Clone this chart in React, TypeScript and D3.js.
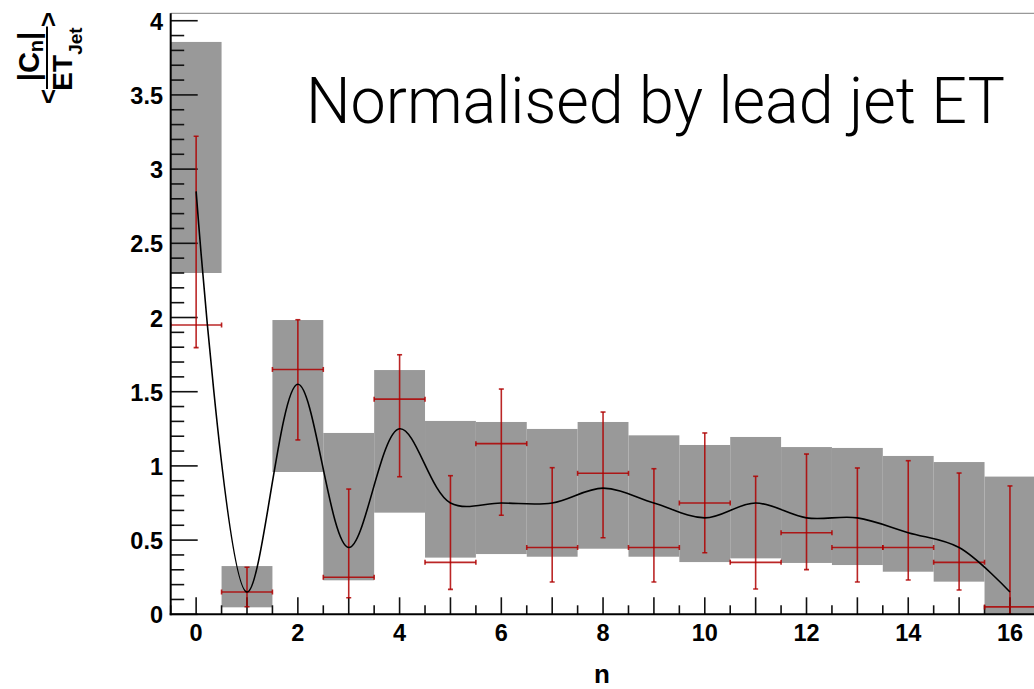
import React from "react";
import * as d3 from "d3";

const nValues = [0, 1, 2, 3, 4, 5, 6, 7, 8, 9, 10, 11, 12, 13, 14, 15, 16];
const sysLow = [2.3, 0.047, 0.959, 0.229, 0.685, 0.382, 0.406, 0.388, 0.442, 0.388, 0.352, 0.377, 0.346, 0.332, 0.287, 0.22, 0.0];
const sysHigh = [3.857, 0.325, 1.983, 1.222, 1.646, 1.303, 1.296, 1.249, 1.296, 1.206, 1.141, 1.195, 1.127, 1.121, 1.067, 1.026, 0.928];
const pointValue = [1.95, 0.15, 1.65, 0.25, 1.45, 0.35, 1.15, 0.45, 0.95, 0.45, 0.75, 0.35, 0.55, 0.45, 0.45, 0.35, 0.05];
const errHigh = [3.221, 0.317, 1.985, 0.844, 1.749, 0.934, 1.518, 0.988, 1.363, 0.981, 1.222, 0.93, 1.08, 0.986, 1.035, 0.952, 0.865];
const errLow = [1.797, 0.051, 1.175, 0.112, 0.927, 0.168, 0.667, 0.218, 0.516, 0.218, 0.415, 0.17, 0.301, 0.218, 0.231, 0.164, 0.0];
const curveValue = [2.85, 0.15, 1.55, 0.45, 1.25, 0.75, 0.75, 0.75, 0.85, 0.75, 0.65, 0.75, 0.65, 0.65, 0.55, 0.45, 0.15];

const yTickLabels = ["0", "0.5", "1", "1.5", "2", "2.5", "3", "3.5", "4"];
const xTickLabels = ["0", "2", "4", "6", "8", "10", "12", "14", "16"];

const W = 1034;
const H = 689;
const left = 170.7;
const right = 1035.4;
const top = 13.3;
const bottom = 614.3;

const RED = "rgb(175,0,0)";
const FONT = "'Liberation Sans', Arial, Helvetica, sans-serif";

export default function App() {
  const x = d3.scaleLinear().domain([-0.5, 16.5]).range([left, right]);
  const y = d3.scaleLinear().domain([0, 4.05]).range([bottom, top]);

  const line = d3
    .line<number>()
    .x((_, i) => x(nValues[i]))
    .y((d) => y(d))
    .curve(d3.curveCatmullRom.alpha(0.5));

  const yMinor = d3.range(0, 41).map((i) => i / 10);
  const xMinor = d3.range(-0.5, 16.51, 0.5);
  const cap = 2.5;

  return (
    <svg
      width={W}
      height={H}
      style={{ position: "absolute", left: 0, top: 0, background: "#fff" }}
    >
      <defs>
        <clipPath id="plot">
          <rect x={left} y={top} width={right - left} height={bottom - top} />
        </clipPath>
      </defs>

      {/* systematic boxes */}
      <g clipPath="url(#plot)">
        {nValues.map((n, i) => (
          <rect
            key={"b" + i}
            x={x(n - 0.5)}
            y={y(sysHigh[i])}
            width={x(n + 0.5) - x(n - 0.5)}
            height={y(sysLow[i]) - y(sysHigh[i])}
            fill="#999999"
          />
        ))}
      </g>

      {/* axis ticks */}
      <g stroke="#111" strokeWidth={1.6}>
        {yMinor.map((v, i) => (
          <line
            key={"yt" + i}
            x1={left}
            x2={left + (i % 5 === 0 ? 27 : 13.5)}
            y1={y(v)}
            y2={y(v)}
          />
        ))}
        {xMinor.map((v, i) => (
          <line
            key={"xt" + i}
            x1={x(v)}
            x2={x(v)}
            y1={bottom}
            y2={bottom - (Number.isInteger(v) ? 17 : 9)}
          />
        ))}
      </g>

      {/* error bars */}
      <g clipPath="url(#plot)" stroke={RED} strokeWidth={1.6} strokeOpacity={0.85} fill="none">
        {nValues.map((n, i) => (
          <g key={"e" + i}>
            <line x1={x(n)} x2={x(n)} y1={y(errLow[i])} y2={y(errHigh[i])} />
            <line x1={x(n) - cap} x2={x(n) + cap} y1={y(errHigh[i])} y2={y(errHigh[i])} />
            <line x1={x(n) - cap} x2={x(n) + cap} y1={y(errLow[i])} y2={y(errLow[i])} />
            <line x1={x(n - 0.5)} x2={x(n + 0.5)} y1={y(pointValue[i])} y2={y(pointValue[i])} />
            <line x1={x(n - 0.5)} x2={x(n - 0.5)} y1={y(pointValue[i]) - cap} y2={y(pointValue[i]) + cap} />
            <line x1={x(n + 0.5)} x2={x(n + 0.5)} y1={y(pointValue[i]) - cap} y2={y(pointValue[i]) + cap} />
          </g>
        ))}
      </g>

      {/* smooth curve */}
      <path
        d={line(curveValue) || ""}
        fill="none"
        stroke="#000"
        strokeWidth={1.6}
        clipPath="url(#plot)"
      />

      {/* frame */}
      <line x1={left} x2={W} y1={top} y2={top} stroke="#999" strokeWidth={1.2} />
      <line x1={left} x2={left} y1={top} y2={bottom + 1} stroke="#000" strokeWidth={2} />
      <line x1={left - 1} x2={W} y1={bottom} y2={bottom} stroke="#000" strokeWidth={2} />

      {/* tick labels */}
      <g fontFamily={FONT} fontWeight="bold" fontSize={23.5} fill="#000">
        {yTickLabels.map((t) => (
          <text key={"yl" + t} x={163} y={y(+t) + 9} textAnchor="end">
            {t}
          </text>
        ))}
        {xTickLabels.map((t) => (
          <text key={"xl" + t} x={x(+t)} y={641} textAnchor="middle">
            {t}
          </text>
        ))}
      </g>

      {/* x axis title */}
      <text
        x={602}
        y={683}
        textAnchor="middle"
        fontFamily={FONT}
        fontWeight="bold"
        fontSize={26}
      >
        n
      </text>

      {/* y axis title */}
      <g transform="translate(47,58) rotate(-90)" fontFamily={FONT} fontWeight="bold" fill="#000">
        <line x1={-31} x2={31.5} y1={0} y2={0} stroke="#000" strokeWidth={2} />
        <text x={-38.5} y={9.5} textAnchor="middle" fontSize={26}>
          {"<"}
        </text>
        <text x={38.5} y={9.5} textAnchor="middle" fontSize={26}>
          {">"}
        </text>
        <text x={1.5} y={-8} textAnchor="middle" fontSize={29}>
          <tspan>|C</tspan>
          <tspan fontSize={20} dy={4}>n</tspan>
          <tspan dy={-4}>|</tspan>
        </text>
        <text x={-1} y={24.5} textAnchor="middle" fontSize={28}>
          <tspan>ET</tspan>
          <tspan fontSize={19} dy={10}>Jet</tspan>
        </text>
      </g>

      {/* title */}
      <text
        x={306}
        y={123}
        fontFamily="Roboto, 'Open Sans', Inter, sans-serif"
        fontWeight={300}
        fontSize={65}
        textLength={699}
        lengthAdjust="spacingAndGlyphs"
        fill="#000"
      >
        Normalised by lead jet ET
      </text>
    </svg>
  );
}
